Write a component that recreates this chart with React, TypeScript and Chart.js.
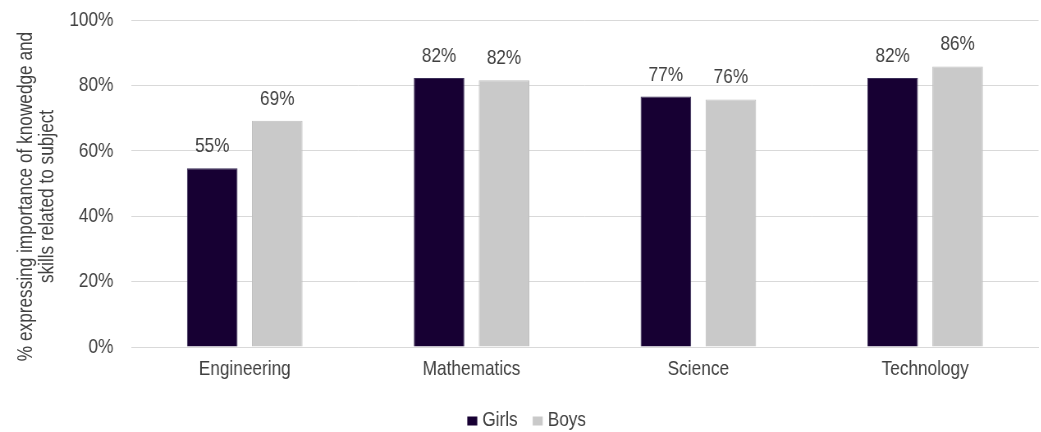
import React, { useEffect, useRef } from "react";
import { Chart, registerables } from "chart.js";

Chart.register(...registerables);

// Survey results: share of pupils who value the knowledge and skills of each subject
const subjects = ["Engineering", "Mathematics", "Science", "Technology"];
const girls = [54.7, 82.3, 76.6, 82.3];
const boys = [69.2, 81.6, 75.7, 85.8];
const yTicks = [0, 20, 40, 60, 80, 100];
const axisTitleLines = [
  "% expressing importance of knowedge and",
  "skills related to subject",
];

// The canvas is drawn wide and squeezed horizontally, giving a condensed type face
const SQUEEZE = 0.82;
const PAGE_W = 1041;
const PAGE_H = 432;
const CANVAS_W = PAGE_W / SQUEEZE;

const FONT = "'Liberation Sans', Arial, sans-serif";
const TEXT = "#404040";
const GIRLS_COLOR = "#170033";
const BOYS_COLOR = "#c9c9c9";
const GRID = "#d9d9d9";

// Value labels above bars, rotated y-axis title and a compact legend
const decorations = {
  id: "decorations",
  afterDatasetsDraw(chart: any) {
    const { ctx } = chart;
    ctx.save();
    ctx.font = `21px ${FONT}`;
    ctx.fillStyle = TEXT;
    ctx.textAlign = "center";
    ctx.textBaseline = "alphabetic";
    chart.data.datasets.forEach((ds: any, i: number) => {
      const meta = chart.getDatasetMeta(i);
      meta.data.forEach((bar: any, j: number) => {
        ctx.fillText(`${Math.round(ds.data[j])}%`, bar.x, bar.y - 16);
      });
    });
    ctx.restore();
  },
  afterDraw(chart: any) {
    const { ctx, chartArea } = chart;

    // axis title, two lines read bottom to top; the counter-scale keeps the
    // glyphs condensed along the text once the canvas is squeezed
    ctx.save();
    ctx.font = `21px ${FONT}`;
    ctx.fillStyle = TEXT;
    ctx.textAlign = "center";
    ctx.textBaseline = "alphabetic";
    ctx.translate(32 / SQUEEZE, (chartArea.top + chartArea.bottom) / 2 + 13);
    ctx.rotate(-Math.PI / 2);
    ctx.scale(SQUEEZE, 1 / SQUEEZE);
    axisTitleLines.forEach((line, i) => ctx.fillText(line, 0, i * 21));
    ctx.restore();

    // legend
    ctx.save();
    ctx.font = `21px ${FONT}`;
    ctx.textBaseline = "alphabetic";
    ctx.textAlign = "left";
    const box = 10 / SQUEEZE;
    const gap = 5 / SQUEEZE;
    const spacing = 15 / SQUEEZE;
    const items = chart.data.datasets.map((ds: any) => ({
      label: ds.label,
      color: ds.backgroundColor,
      w: ctx.measureText(ds.label).width,
    }));
    const total =
      items.reduce((s: number, it: any) => s + box + gap + it.w, 0) +
      spacing * (items.length - 1);
    let x = chart.width / 2 + 7 - total / 2;
    const baseline = 426;
    items.forEach((it: any) => {
      ctx.fillStyle = it.color;
      ctx.fillRect(x, baseline - 9.5, box, 9);
      x += box + gap;
      ctx.fillStyle = TEXT;
      ctx.fillText(it.label, x, baseline);
      x += it.w + spacing;
    });
    ctx.restore();
  },
};

export default function App() {
  const canvasRef = useRef<HTMLCanvasElement | null>(null);

  useEffect(() => {
    if (!canvasRef.current) return;
    const chart = new Chart(canvasRef.current, {
      type: "bar",
      data: {
        labels: subjects,
        datasets: [
          {
            label: "Girls",
            data: girls,
            backgroundColor: GIRLS_COLOR,
            borderColor: "#3a2d57",
            borderWidth: 1,
          },
          {
            label: "Boys",
            data: boys,
            backgroundColor: BOYS_COLOR,
            borderColor: "#bfbfbf",
            borderWidth: 1,
          },
        ],
      },
      options: {
        responsive: true,
        maintainAspectRatio: false,
        animation: false,
        layout: { padding: { top: 20, right: 4, left: 0, bottom: 0 } },
        datasets: {
          bar: { categoryPercentage: 0.573, barPercentage: 0.778 },
        },
        plugins: {
          legend: { display: false },
          tooltip: { enabled: false },
        },
        scales: {
          x: {
            grid: { display: false, drawTicks: false },
            border: { display: true, color: GRID, width: 1 },
            ticks: {
              color: TEXT,
              font: { family: FONT, size: 21 },
              padding: 10,
            },
            afterFit(scale: any) {
              scale.height = 85;
            },
          },
          y: {
            min: 0,
            max: 100,
            afterBuildTicks(scale: any) {
              scale.ticks = yTicks.map((v) => ({ value: v }));
            },
            // invisible tick marks hold the labels away from the plot
            grid: {
              color: GRID,
              lineWidth: 1,
              drawTicks: true,
              tickLength: 18 / SQUEEZE,
              tickColor: "rgba(0,0,0,0)",
            },
            border: { display: false },
            ticks: {
              color: TEXT,
              font: { family: FONT, size: 21 },
              padding: 0,
              callback: (v: any) => `${v}%`,
            },
            afterFit(scale: any) {
              scale.width = 131.25 / SQUEEZE;
            },
          },
        },
      },
      plugins: [decorations],
    });
    return () => chart.destroy();
  }, []);

  return (
    <div
      style={{
        position: "fixed",
        left: 0,
        top: 0,
        width: PAGE_W,
        height: PAGE_H,
        overflow: "hidden",
        background: "#ffffff",
      }}
    >
      <div
        style={{
          width: CANVAS_W,
          height: PAGE_H,
          transform: `scaleX(${SQUEEZE})`,
          transformOrigin: "0 0",
        }}
      >
        <canvas ref={canvasRef} />
      </div>
    </div>
  );
}
